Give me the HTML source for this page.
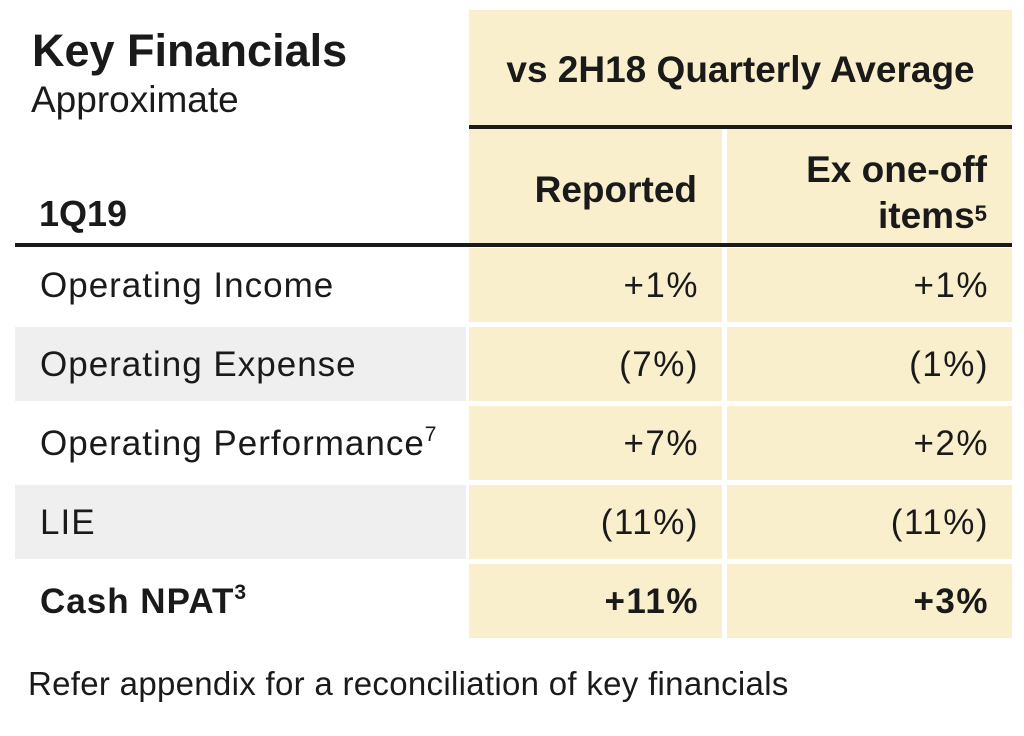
<!DOCTYPE html>
<html><head><meta charset="utf-8"><style>
body{margin:0;width:1024px;height:736px;background:#fff;position:relative;overflow:hidden;font-family:"Liberation Sans",Arial,sans-serif;color:#1a1a1a}
div{position:absolute}
.y{background:#faefcd}
.g{background:#efefef}
.t{white-space:nowrap;line-height:1}
.r{text-align:right}
.b{font-weight:bold}
sup{font-size:60%;vertical-align:top;position:relative;top:-2px}
</style></head><body>
<div class="y" style="left:469px;top:10px;width:543px;height:116px"></div>
<div style="left:469px;top:125px;width:543px;height:4px;background:#1a1a1a"></div>
<div class="y" style="left:469px;top:129px;width:253px;height:115px"></div>
<div class="y" style="left:727px;top:129px;width:285px;height:115px"></div>
<div style="left:15px;top:243px;width:997px;height:4px;background:#1a1a1a"></div>

<div class="t b" style="left:32px;top:28px;font-size:45px">Key Financials</div>
<div class="t" style="left:31px;top:81px;font-size:37px">Approximate</div>
<div class="t b" style="left:469px;width:543px;text-align:center;top:51px;font-size:37px">vs 2H18 Quarterly Average</div>
<div class="t b" style="left:39px;top:196px;font-size:36px">1Q19</div>
<div class="t b r" style="left:469px;width:228px;top:171px;font-size:37px">Reported</div>
<div class="t b r" style="left:727px;width:260px;top:147px;font-size:37px;line-height:46px">Ex one-off<br>items<sup>5</sup></div>

<div class="t" style="left:28px;top:667px;font-size:33px;letter-spacing:0.3px">Refer appendix for a reconciliation of key financials</div>
<script>
const labels=["Operating Income","Operating Expense","Operating Performance<sup>7</sup>","LIE","Cash NPAT<sup>3</sup>"];
const reported=["+1%","(7%)","+7%","(11%)","+11%"];
const exOneOff=["+1%","(1%)","+2%","(11%)","+3%"];
const body=document.body;
labels.forEach((lab,i)=>{
  const top=248+i*79, bold=i===4;
  if(i%2===1){const g=document.createElement('div');g.className='g';
    
    
    g.style.cssText=`left:15px;top:${top}px;width:451px;height:74px`;body.appendChild(g);}
  const c1=document.createElement('div');c1.className='y';
  
  
  c1.style.cssText=`left:469px;top:${top}px;width:253px;height:74px`;body.appendChild(c1);
  const c2=document.createElement('div');c2.className='y';
  
  
  c2.style.cssText=`left:727px;top:${top}px;width:285px;height:74px`;body.appendChild(c2);
  const l=document.createElement('div');l.className='t'+(bold?' b':'');
  
  
  l.style.cssText=`left:40px;top:${top+20}px;font-size:35px;letter-spacing:1px`;l.innerHTML=lab;body.appendChild(l);
  const v1=document.createElement('div');v1.className='t r'+(bold?' b':'');
  
  
  v1.style.cssText=`left:469px;width:230px;top:${top+20}px;font-size:35px;letter-spacing:1.5px`;v1.textContent=reported[i];body.appendChild(v1);
  const v2=document.createElement('div');v2.className='t r'+(bold?' b':'');
  
  
  v2.style.cssText=`left:727px;width:262px;top:${top+20}px;font-size:35px;letter-spacing:1.5px`;v2.textContent=exOneOff[i];body.appendChild(v2);
});
</script>
</body></html>
